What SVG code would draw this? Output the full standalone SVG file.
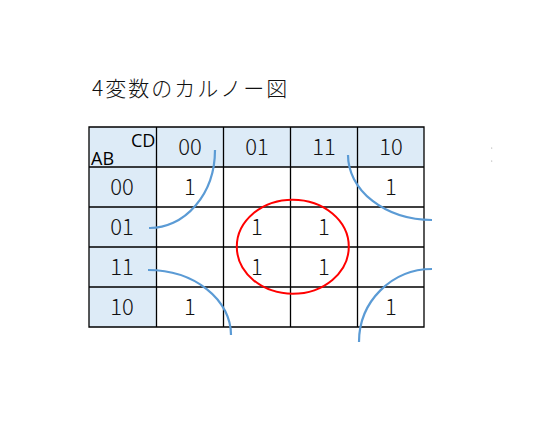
<svg xmlns="http://www.w3.org/2000/svg" width="540" height="424" viewBox="0 0 540 424">
<style>
.hdr{fill:#DDEBF7;stroke:none}
.grid{stroke:#000;stroke-width:1.3;fill:none}
.t{font-family:"Noto Sans CJK JP","Noto Sans",sans-serif;font-size:22px;font-weight:300;fill:#111;text-anchor:middle}
.lbl{font-family:"Open Sans","Liberation Sans",sans-serif;font-size:18px;fill:#000}
.loop{fill:none;stroke:#5B9BD5;stroke-width:2.2}
</style>
<rect width="540" height="424" fill="#fff"/>
<text x="92" y="96" font-family="'Noto Sans CJK JP',sans-serif" font-size="21" font-weight="300" letter-spacing="2" fill="#111">4変数のカルノー図</text>
<g id="table">
<rect class="hdr" x="89" y="127" width="335" height="40"/>
<rect class="hdr" x="89" y="167" width="67.5" height="160"/>
<path class="grid" d="M89,127H424V327H89Z M89,167H424 M89,207H424 M89,247H424 M89,287H424 M156.5,127V327 M223.5,127V327 M290.5,127V327 M357.5,127V327"/>
</g>
<g id="headers">
<text class="lbl" x="131" y="147">CD</text>
<text class="lbl" x="91" y="165">AB</text>
<text class="t" x="190" y="155">00</text>
<text class="t" x="257" y="155">01</text>
<text class="t" x="324" y="155">11</text>
<text class="t" x="391" y="155">10</text>
<text class="t" x="122" y="195">00</text>
<text class="t" x="122" y="235">01</text>
<text class="t" x="122" y="275">11</text>
<text class="t" x="122" y="315">10</text>
</g>
<g id="cells">
<text class="t" x="190" y="195">1</text>
<text class="t" x="391" y="195">1</text>
<text class="t" x="257" y="235">1</text>
<text class="t" x="324" y="235">1</text>
<text class="t" x="257" y="275">1</text>
<text class="t" x="324" y="275">1</text>
<text class="t" x="190" y="315">1</text>
<text class="t" x="391" y="315">1</text>
</g>
<g id="connectors">
<ellipse cx="292.8" cy="246.7" rx="56" ry="47" fill="none" stroke="#FF0000" stroke-width="2"/>
<path class="loop" d="M215,150 A65,78 0 0 1 149,228"/>
<path class="loop" d="M348,155 A84,65 0 0 0 432,220"/>
<path class="loop" d="M148,270 A83,65 0 0 1 231,335"/>
<path class="loop" d="M432,269 A73,73 0 0 0 359,342"/>
</g>
<g id="marks" fill="#999">
<circle cx="491.7" cy="148" r="0.6"/>
<circle cx="491.7" cy="161" r="0.6"/>
</g>
</svg>
